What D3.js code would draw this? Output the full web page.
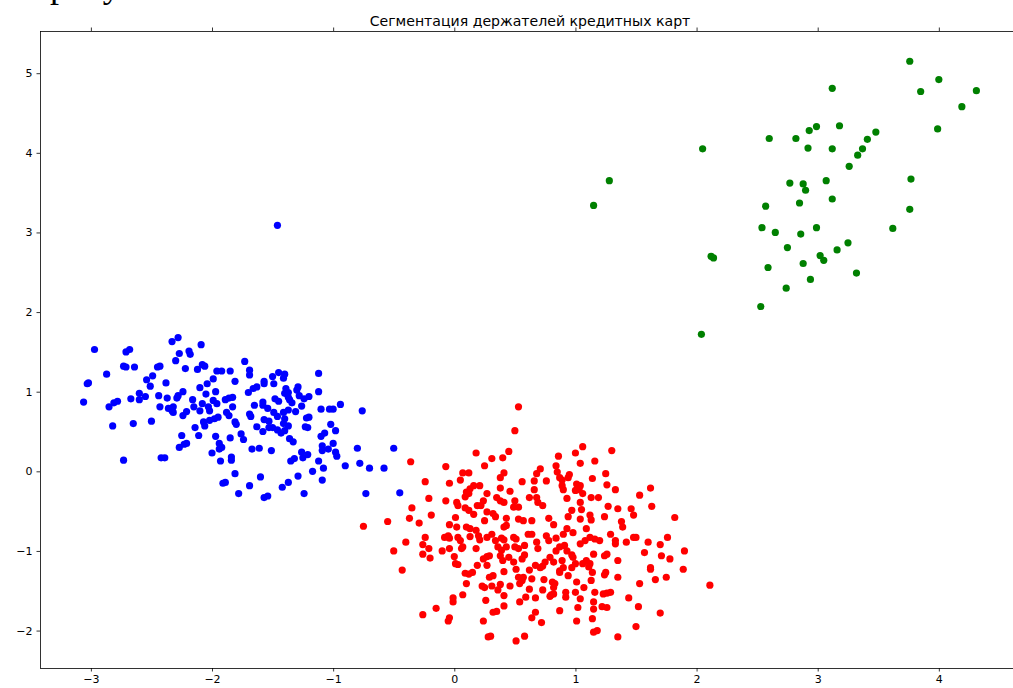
<!DOCTYPE html>
<html>
<head>
<meta charset="utf-8">
<script src="https://cdn.jsdelivr.net/npm/d3@7"></script>
<style>
  body { margin: 0; background: #fff; }
  svg { display: block; }
</style>
</head>
<body>
<div id="chart"></div>
<script>
// cluster points [x, y]
var greenPoints = [
  [3.76,5.15],[3.12,4.81],[4.00,4.92],[3.85,4.77],[4.31,4.78],[4.19,4.58],[3.99,4.30],[2.99,4.33],
  [2.93,4.28],[3.18,4.34],[2.60,4.18],[2.82,4.18],[3.48,4.26],[3.41,4.17],[2.92,4.06],[3.12,4.05],
  [3.37,4.05],[3.33,3.97],[2.05,4.05],[3.26,3.83],[1.28,3.65],[1.15,3.34],[2.77,3.62],[2.88,3.61],
  [2.90,3.53],[3.07,3.65],[3.77,3.67],[3.12,3.42],[2.85,3.37],[2.57,3.33],[3.76,3.29],[2.54,3.06],
  [2.65,3.00],[2.86,2.98],[2.99,3.06],[3.62,3.05],[2.75,2.81],[3.25,2.87],[3.16,2.78],[3.02,2.71],
  [3.05,2.65],[2.12,2.70],[2.14,2.68],[2.59,2.56],[2.88,2.61],[3.32,2.49],[2.94,2.41],[2.74,2.30],
  [2.53,2.07],[2.04,1.72]
];

var bluePoints = [
  [-2.97,1.53],[-2.71,1.50],[-2.68,1.53],[-2.33,1.63],[-2.28,1.68],[-2.09,1.59],[-2.27,1.48],[-2.19,1.51],
  [-2.18,1.47],[-2.30,1.39],[-2.73,1.32],[-2.71,1.31],[-2.64,1.31],[-2.87,1.22],[-2.45,1.31],[-2.43,1.32],
  [-2.22,1.29],[-2.12,1.28],[-2.08,1.34],[-2.06,1.32],[-1.96,1.26],[-1.92,1.26],[-1.85,1.26],[-3.03,1.10],
  [-3.02,1.11],[-2.49,1.20],[-2.54,1.15],[-2.51,1.07],[-2.38,1.11],[-2.04,1.10],[-1.99,1.16],[-1.81,1.13],
  [-2.10,1.05],[-3.06,0.87],[-2.85,0.81],[-2.81,0.86],[-2.78,0.88],[-2.67,0.91],[-2.60,0.98],[-2.60,0.90],
  [-2.55,0.94],[-2.44,0.95],[-2.37,0.92],[-2.29,0.92],[-2.28,0.95],[-2.24,1.00],[-2.05,0.97],[-1.97,1.00],
  [-1.89,0.90],[-1.86,0.92],[-1.83,0.93],[-2.16,0.90],[-2.08,0.85],[-2.15,0.81],[-1.99,0.89],[-1.96,0.85],
  [-2.03,0.81],[-2.02,0.76],[-2.43,0.81],[-2.36,0.79],[-2.33,0.76],[-2.32,0.81],[-2.32,0.74],[-2.24,0.70],
  [-2.21,0.75],[-2.10,0.76],[-1.83,0.81],[-1.88,0.74],[-1.86,0.70],[-1.95,0.68],[-2.82,0.57],[-2.65,0.60],
  [-2.50,0.63],[-2.07,0.62],[-2.06,0.57],[-2.02,0.64],[-1.98,0.66],[-2.14,0.55],[-2.11,0.45],[-1.81,0.62],
  [-1.80,0.59],[-1.97,0.44],[-1.85,0.42],[-2.25,0.45],[-2.27,0.30],[-2.23,0.34],[-2.21,0.35],[-1.94,0.35],
  [-1.92,0.30],[-1.94,0.28],[-2.00,0.23],[-2.73,0.14],[-2.42,0.17],[-2.39,0.17],[-1.93,0.13],[-1.84,0.18],
  [-1.84,0.14],[-1.81,-0.03],[-1.91,-0.15],[-1.89,-0.14],[-1.78,-0.28],
  [-1.46,3.09],[-1.73,1.38],[-1.69,1.27],[-1.69,1.21],[-1.12,1.23],[-1.50,1.19],[-1.45,1.24],[-1.40,1.22],
  [-1.41,1.17],[-1.57,1.13],[-1.57,1.10],[-1.49,1.10],[-1.63,1.06],[-1.66,1.04],[-1.70,0.99],[-1.39,1.04],
  [-1.37,0.99],[-1.40,0.98],[-1.29,1.06],[-1.30,1.02],[-1.28,0.95],[-1.12,1.00],[-1.20,0.94],[-1.24,0.91],
  [-1.48,0.91],[-1.45,0.88],[-1.37,0.93],[-1.36,0.90],[-1.34,0.86],[-1.65,0.83],[-1.58,0.87],[-1.58,0.83],
  [-1.54,0.79],[-1.26,0.82],[-1.10,0.78],[-1.03,0.78],[-1.00,0.78],[-0.94,0.84],[-0.76,0.76],[-1.69,0.72],
  [-1.68,0.69],[-1.49,0.74],[-1.41,0.74],[-1.37,0.77],[-1.31,0.75],[-1.57,0.65],[-1.53,0.63],[-1.46,0.69],
  [-1.40,0.66],[-1.41,0.60],[-1.22,0.67],[-1.20,0.68],[-1.63,0.56],[-1.53,0.55],[-1.50,0.55],[-1.58,0.50],
  [-1.46,0.52],[-1.40,0.51],[-1.37,0.57],[-1.43,0.48],[-1.23,0.56],[-1.21,0.55],[-1.02,0.59],[-0.98,0.51],
  [-1.07,0.48],[-1.10,0.44],[-1.76,0.47],[-1.74,0.40],[-1.36,0.41],[-1.33,0.37],[-1.09,0.32],[-1.04,0.28],
  [-1.00,0.35],[-0.98,0.24],[-0.97,0.19],[-1.09,0.26],[-0.80,0.29],[-0.50,0.29],[-1.67,0.28],[-1.61,0.29],
  [-1.51,0.26],[-1.26,0.24],[-1.25,0.17],[-1.21,0.21],[-1.35,0.13],[-1.32,0.16],[-1.12,0.13],[-1.08,0.04],
  [-0.90,0.07],[-0.78,0.10],[-0.70,0.04],[-0.58,0.04],[-1.17,0.00],[-1.29,-0.06],[-1.60,-0.07],[-1.09,-0.11],
  [-1.37,-0.14],[-1.42,-0.20],[-1.69,-0.18],[-1.57,-0.33],[-1.54,-0.31],[-1.24,-0.28],[-0.73,-0.28],[-0.45,-0.27]
];

var redPoints = [
  [0.53,0.81],[0.50,0.51],[0.18,0.23],[0.45,0.25],[0.40,0.17],[0.31,0.16],[-0.36,0.12],[-0.07,0.06],
  [0.25,0.07],[0.07,-0.02],[0.12,-0.02],[0.05,-0.11],[0.41,-0.02],[0.38,-0.08],[-0.24,-0.13],[-0.04,-0.15],
  [0.21,-0.18],[0.16,-0.18],[0.13,-0.22],[0.10,-0.26],[0.09,-0.32],[0.12,-0.28],[0.38,-0.21],[0.46,-0.25],
  [0.27,-0.28],[0.56,-0.13],[-0.21,-0.34],[-0.07,-0.37],[0.02,-0.39],[0.03,-0.43],[0.24,-0.37],[0.22,-0.43],
  [0.19,-0.43],[0.35,-0.33],[0.38,-0.37],[0.41,-0.39],[0.50,-0.37],[0.49,-0.45],[0.53,-0.45],[-0.35,-0.46],
  [0.09,-0.46],[0.12,-0.49],[0.16,-0.54],[0.27,-0.51],[0.32,-0.53],[0.34,-0.57],[0.43,-0.59],[-0.19,-0.55],
  [-0.37,-0.59],[-0.29,-0.65],[-0.55,-0.63],[0.01,-0.58],[-0.04,-0.67],[0.25,-0.62],[-0.75,-0.69],[0.02,-0.70],
  [0.10,-0.70],[0.13,-0.72],[0.18,-0.74],[0.41,-0.70],[0.43,-0.68],[0.53,-0.60],[0.57,-0.62],
  [1.06,0.31],[1.00,0.23],[0.86,0.19],[1.30,0.26],[1.16,0.13],[1.04,0.10],[0.84,0.07],[0.71,0.03],
  [0.68,-0.03],[0.85,-0.01],[0.87,-0.08],[0.89,-0.11],[0.94,-0.08],[0.95,-0.04],[1.25,-0.03],[0.76,-0.12],
  [0.66,-0.12],[1.14,-0.09],[1.01,-0.16],[1.04,-0.18],[1.00,-0.24],[1.03,-0.23],[0.89,-0.18],[0.90,-0.23],
  [1.26,-0.17],[0.66,-0.23],[1.33,-0.23],[1.62,-0.21],[1.53,-0.30],[1.06,-0.28],[0.93,-0.34],[1.13,-0.33],
  [1.19,-0.33],[0.68,-0.33],[0.69,-0.39],[0.73,-0.43],[0.62,-0.33],[1.04,-0.39],[1.27,-0.44],[1.35,-0.47],
  [1.46,-0.47],[1.48,-0.55],[1.63,-0.44],[0.97,-0.49],[0.94,-0.57],[1.05,-0.48],[1.04,-0.60],[1.12,-0.55],
  [1.13,-0.61],[1.24,-0.57],[0.78,-0.59],[0.64,-0.62],[1.38,-0.63],[1.39,-0.70],[1.82,-0.58],[0.82,-0.67],
  [0.93,-0.72],[1.09,-0.72],
  [-0.24,-0.83],[-0.40,-0.89],[-0.50,-1.00],[-0.26,-0.92],[-0.26,-1.04],[-0.21,-0.97],[-0.20,-1.09],[-0.10,-1.00],
  [-0.04,-0.97],[-0.08,-0.83],[-0.05,-0.81],[-0.04,-0.84],[0.03,-0.83],[0.05,-0.87],[0.06,-0.97],[0.07,-0.95],
  [0.00,-1.07],[0.13,-0.82],[0.20,-0.81],[0.21,-0.86],[0.18,-0.97],[0.27,-0.83],[0.31,-0.79],[0.34,-0.87],
  [0.39,-0.84],[0.41,-0.86],[0.36,-0.95],[0.39,-0.99],[0.43,-0.95],[0.49,-0.83],[0.51,-0.85],[0.50,-0.95],
  [0.53,-0.97],[0.58,-0.93],[0.61,-0.79],[0.27,-1.07],[0.29,-1.06],[0.24,-1.10],[0.38,-1.06],[0.40,-1.12],
  [0.45,-1.08],[0.49,-1.14],[0.56,-1.10],[0.58,-1.05],[0.01,-1.16],[0.03,-1.17],[0.19,-1.18],[0.27,-1.18],
  [-0.43,-1.24],[0.09,-1.28],[0.12,-1.29],[0.15,-1.27],[0.32,-1.31],[0.29,-1.33],[0.41,-1.26],[0.51,-1.23],
  [0.53,-1.33],[0.56,-1.37],[0.62,-1.24],[0.10,-1.41],[0.23,-1.44],[0.25,-1.46],[0.31,-1.44],[0.38,-1.42],
  [0.36,-1.49],[0.46,-1.44],[0.54,-1.41],[0.57,-1.33],[0.62,-1.48],[0.07,-1.55],[-0.01,-1.59],[-0.01,-1.64],
  [0.26,-1.62],[0.41,-1.56],[0.54,-1.64],[0.59,-1.58],[-0.15,-1.72],[-0.26,-1.80],[0.41,-1.69],[0.32,-1.77],
  [0.35,-1.76],[0.24,-1.88],[-0.05,-1.88],[-0.04,-1.84],[0.28,-2.08],[0.30,-2.07],[0.51,-2.13],[0.58,-2.07],
  [0.64,-0.79],[0.68,-0.89],[0.69,-0.97],[0.76,-0.81],[0.78,-0.87],[0.84,-0.84],[0.90,-0.79],[0.98,-0.77],
  [1.04,-0.91],[1.08,-0.87],[1.12,-0.83],[1.16,-0.85],[1.20,-0.87],[1.29,-0.79],[1.33,-0.87],[1.33,-0.91],
  [1.42,-0.89],[1.48,-0.83],[1.50,-0.83],[1.60,-0.89],[1.76,-0.83],[1.70,-0.92],[1.57,-1.02],[1.71,-1.06],
  [1.78,-1.10],[1.90,-1.00],[0.84,-1.00],[0.87,-0.95],[0.91,-0.93],[0.93,-1.00],[0.97,-1.05],[0.79,-1.08],
  [0.82,-1.14],[0.75,-1.14],[0.67,-1.18],[0.71,-1.21],[0.73,-1.19],[0.89,-1.12],[0.90,-1.21],[0.98,-1.08],
  [1.00,-1.16],[0.97,-1.21],[1.06,-1.16],[1.09,-1.12],[1.12,-1.16],[1.11,-1.20],[1.14,-1.27],[1.15,-1.04],
  [1.24,-1.06],[1.26,-1.04],[1.35,-1.12],[1.25,-1.27],[1.24,-1.30],[1.62,-1.21],[1.62,-1.23],[1.89,-1.23],
  [0.64,-1.35],[0.74,-1.36],[0.81,-1.39],[0.83,-1.41],[0.82,-1.46],[0.94,-1.31],[0.87,-1.25],[0.87,-1.27],
  [1.01,-1.39],[1.13,-1.37],[1.35,-1.33],[1.53,-1.41],[1.66,-1.36],[1.75,-1.33],[2.11,-1.43],[0.67,-1.59],
  [0.73,-1.49],[0.80,-1.55],[0.79,-1.57],[0.82,-1.54],[0.92,-1.52],[0.92,-1.58],[1.00,-1.52],[1.07,-1.46],
  [1.04,-1.60],[1.16,-1.52],[1.23,-1.54],[1.26,-1.53],[1.29,-1.52],[1.15,-1.64],[1.44,-1.59],[1.52,-1.70],
  [0.87,-1.75],[1.02,-1.71],[1.15,-1.73],[1.22,-1.70],[1.26,-1.71],[0.67,-1.77],[0.64,-1.84],[0.72,-1.90],
  [1.01,-1.88],[1.14,-1.85],[1.70,-1.78],[1.50,-1.95],[1.15,-2.02],[1.18,-2.00],[1.35,-2.08]
];

var xTicks = [-3, -2, -1, 0, 1, 2, 3, 4];
var yTicks = [-2, -1, 0, 1, 2, 3, 4, 5];
var chartTitle = "Сегментация держателей кредитных карт";

var width = 1013,
    height = 688,
    margin = {top: 31, left: 40, right: -7, bottom: 20};

var svg = d3.select("#chart")
  .append("svg")
    .attr("width", width)
    .attr("height", height);

// end of the page caption line above the figure, cut off by the top edge
svg.append("text")
  .attr("x", 50)
  .attr("y", -3)
  .style("font-family", "Liberation Serif, serif")
  .style("font-size", "36px")
  .attr("fill", "#000")
  .text("рисунок");

var x = d3.scaleLinear()
  .domain([-3.42, 4.67])
  .range([margin.left, width - margin.right]);

var y = d3.scaleLinear()
  .domain([-2.47, 5.53])
  .range([height - margin.bottom, margin.top]);

function styleAxis(g) {
  g.selectAll(".domain").remove();
  g.selectAll("line").attr("stroke", "#000").attr("stroke-width", 0.8);
  g.selectAll("text")
    .attr("fill", "#000")
    .style("font-family", "DejaVu Sans, sans-serif")
    .style("font-size", "11px");
}

var fmt = function(d) { return d < 0 ? "\u2212" + Math.abs(d) : String(d); };

svg.append("g")
  .attr("transform", "translate(0," + (height - margin.bottom) + ")")
  .call(d3.axisBottom(x).tickValues(xTicks).tickFormat(fmt).tickSize(3.5).tickPadding(4))
  .call(styleAxis);

svg.append("g")
  .attr("transform", "translate(0," + margin.top + ")")
  .call(d3.axisTop(x).tickValues(xTicks).tickFormat("").tickSize(3.5))
  .call(styleAxis);

svg.append("g")
  .attr("transform", "translate(" + margin.left + ",0)")
  .call(d3.axisLeft(y).tickValues(yTicks).tickFormat(fmt).tickSize(3.5).tickPadding(4))
  .call(styleAxis);

// clusters
var clusters = [
  {pts: bluePoints, color: "#0000ff"},
  {pts: redPoints, color: "#ff0000"},
  {pts: greenPoints, color: "#008000"}
];

clusters.forEach(function(c) {
  svg.append("g")
    .selectAll("circle")
    .data(c.pts)
    .enter()
    .append("circle")
      .attr("cx", function(d) { return x(d[0]); })
      .attr("cy", function(d) { return y(d[1]); })
      .attr("r", 3.6)
      .attr("fill", c.color);
});

// frame
svg.append("rect")
  .attr("x", margin.left + 0.5)
  .attr("y", margin.top + 0.5)
  .attr("width", width - margin.right - margin.left)
  .attr("height", height - margin.bottom - margin.top)
  .attr("fill", "none")
  .attr("stroke", "#000")
  .attr("stroke-width", 0.8);

svg.append("text")
  .attr("x", (margin.left + width - margin.right) / 2)
  .attr("y", margin.top - 5)
  .attr("text-anchor", "middle")
  .style("font-family", "DejaVu Sans, sans-serif")
  .style("font-size", "14.1px")
  .attr("fill", "#000")
  .text(chartTitle);
</script>
</body>
</html>
